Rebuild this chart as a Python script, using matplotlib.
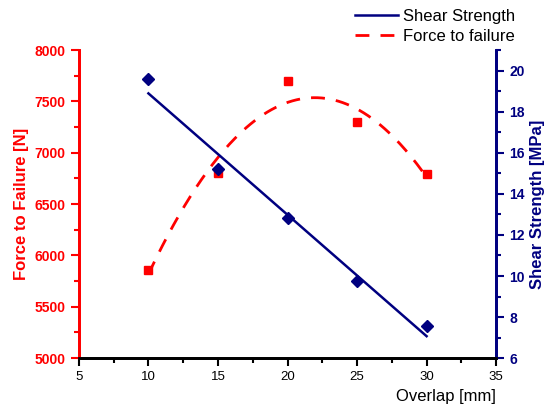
import numpy as np
import matplotlib
matplotlib.use('Agg')
import matplotlib.pyplot as plt
from matplotlib.ticker import MultipleLocator

plt.rcParams['font.family'] = ['Liberation Sans', 'DejaVu Sans']

# dati
overlap = [10, 15, 20, 25, 30]  # mm
force = [5860, 6800, 7700, 7300, 6790]  # N
shear = [19.6, 15.2, 12.8, 9.75, 7.55]  # MPa

rosso = '#ff0000'
blu = '#000080'

fig = plt.figure(figsize=(5.44, 4.07), dpi=100)
ax = fig.add_axes([0.145, 0.120, 0.767, 0.757])
ax2 = ax.twinx()

# fit quadratico della forza e lineare dello sforzo
xf = np.linspace(10, 30, 200)
cf = np.polyfit(overlap, force, 2)
cs = np.polyfit(overlap, shear, 1)

ax.plot(overlap, force, 's', color=rosso, ms=6, zorder=3)
l2, = ax.plot(xf, np.polyval(cf, xf), '--', color=rosso, lw=2, dashes=(5, 4), label='Force to failure')
ax2.plot(overlap, shear, 'D', color=blu, ms=6, zorder=3)
l1, = ax2.plot(xf, np.polyval(cs, xf), '-', color=blu, lw=1.8, label='Shear Strength')

ax.set_xlim(5, 35)
ax.set_ylim(5000, 8000)
ax2.set_ylim(6, 21)
ax.xaxis.set_major_locator(MultipleLocator(5))
ax.xaxis.set_minor_locator(MultipleLocator(2.5))
ax.yaxis.set_major_locator(MultipleLocator(500))
ax.yaxis.set_minor_locator(MultipleLocator(250))
ax2.yaxis.set_major_locator(MultipleLocator(2))
ax2.yaxis.set_minor_locator(MultipleLocator(1))

for a in (ax, ax2):
    a.spines['top'].set_visible(False)
    a.spines['left'].set_color(rosso)
    a.spines['right'].set_color(blu)
    a.spines['bottom'].set_color('black')
    for s in ('left', 'right', 'bottom'):
        a.spines[s].set_linewidth(2)

ax.tick_params(axis='x', which='major', length=6, width=1.5, labelsize=9.5, direction='out')
ax.tick_params(axis='x', which='minor', length=3.5, width=1.5, direction='out')
ax.tick_params(axis='y', which='major', length=6, width=1.5, colors=rosso, labelsize=10, direction='out')
ax.tick_params(axis='y', which='minor', length=3.5, width=1.5, colors=rosso, direction='out')
ax2.tick_params(axis='y', which='major', length=6, width=1.5, colors=blu, labelsize=10, direction='out')
ax2.tick_params(axis='y', which='minor', length=3.5, width=1.5, colors=blu, direction='out')
for t in ax.get_yticklabels() + ax2.get_yticklabels():
    t.set_fontweight('bold')

ax.set_xlabel('Overlap [mm]', fontsize=12, loc='right', labelpad=4)
ax.set_ylabel('Force to Failure [N]', fontsize=12, fontweight='bold', color=rosso, labelpad=4)
ax2.set_ylabel('Shear Strength [MPa]', fontsize=12, fontweight='bold', color=blu, labelpad=4)

fig.legend(handles=[l1, l2], loc='upper right', bbox_to_anchor=(0.975, 1.015), frameon=False,
           fontsize=12, handlelength=2.6, handletextpad=0.3, labelspacing=0.3)

plt.savefig('out.png', dpi=100)
